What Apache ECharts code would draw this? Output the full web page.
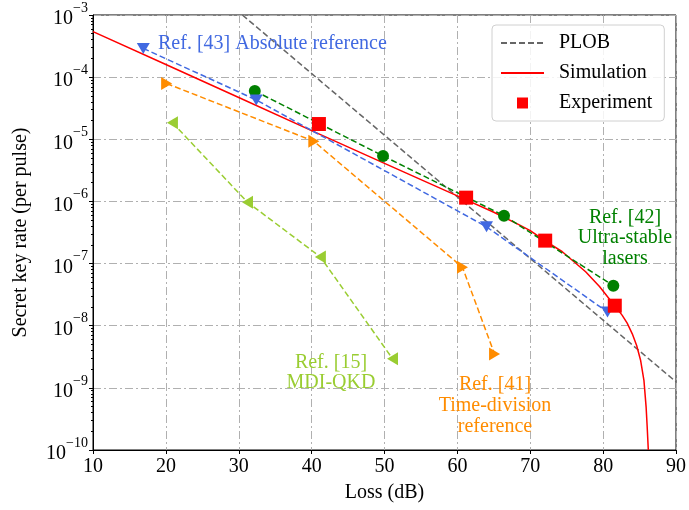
<!DOCTYPE html>
<html>
<head>
<meta charset="utf-8">
<script src="https://cdn.jsdelivr.net/npm/echarts@6/dist/echarts.min.js"></script>
<style>
html,body{margin:0;padding:0;background:#fff;}
#c{width:689px;height:510px;}
</style>
</head>
<body>
<div id="c"></div>
<script>
// ---- data ----
const plobLoss = [30.5, 90];
const plobRate = [1.0e-3, 1.25e-9];

const simLoss = [10, 20, 30, 40, 50, 60, 65, 68.5, 70, 72, 74.4, 75.8, 77.6, 79.5, 80.8, 82.6, 83.3, 84, 84.6, 85.15, 85.6, 85.9, 86.05, 86.2];
const simRate = [5.4e-4, 1.6e-4, 4.7e-5, 1.38e-5, 4.1e-6, 1.23e-6, 6.7e-7, 4.2e-7, 3.4e-7, 2.34e-7, 1.55e-7, 1.12e-7, 7.4e-8, 4.27e-8, 2.75e-8, 1.48e-8, 1.1e-8, 7.4e-9, 4.8e-9, 2.75e-9, 1.32e-9, 4.9e-10, 2.3e-10, 1.0e-10];

const expLoss = [41, 61.2, 72.05, 81.6];
const expRate = [1.76e-5, 1.15e-6, 2.34e-7, 2.1e-8];

const ref42Loss = [32.2, 49.8, 66.4, 81.4];
const ref42Rate = [6.0e-5, 5.4e-6, 5.9e-7, 4.4e-8];

const ref43Loss = [16.9, 32.4, 64.0, 80.6];
const ref43Rate = [2.9e-4, 4.3e-5, 3.9e-7, 1.66e-8];

const ref41Loss = [20.1, 40.3, 60.7, 65.1];
const ref41Rate = [7.9e-5, 9.3e-6, 8.7e-8, 3.5e-9];

const ref15Loss = [20.9, 31.2, 41.2, 51.1];
const ref15Rate = [1.85e-5, 9.7e-7, 1.28e-7, 2.95e-9];

const xTicks = [10, 20, 30, 40, 50, 60, 70, 80, 90];
const yTickExponents = [-10, -9, -8, -7, -6, -5, -4, -3];
const minorMantissas = [2, 3, 4, 5, 6, 7, 8, 9];

// ---- chart ----
const F = '"Liberation Serif", "Times New Roman", serif';
const zip = (a, b) => a.map((v, i) => [v, b[i]]);
const minorValues = [];
yTickExponents.slice(0, -1).forEach(e => minorMantissas.forEach(m => minorValues.push(m * Math.pow(10, e))));
const yMin = Math.pow(10, yTickExponents[0]);
const yMax = Math.pow(10, yTickExponents[yTickExponents.length - 1]);

const chart = echarts.init(document.getElementById('c'), null, {renderer: 'canvas'});
const dashLine = (color) => ({color: color, width: 1.5, type: [6, 3]});
const gridLine = {show: true, lineStyle: {color: '#b0b0b0', width: 1, type: [8, 3, 2, 3]}};

chart.setOption({
  animation: false,
  backgroundColor: '#fff',
  grid: {left: 93, right: 12, top: 15, bottom: 60, show: true, borderColor: '#000', borderWidth: 1, backgroundColor: 'transparent'},
  xAxis: {
    type: 'value', min: xTicks[0], max: xTicks[xTicks.length - 1], interval: 10,
    name: 'Loss (dB)', nameLocation: 'middle', nameGap: 33,
    nameTextStyle: {fontFamily: F, fontSize: 20, color: '#000'},
    axisLine: {show: true, lineStyle: {color: '#000', width: 1}},
    axisTick: {show: true, length: 4, lineStyle: {color: '#000'}},
    axisLabel: {fontFamily: F, fontSize: 20, color: '#000', margin: 7},
    splitLine: gridLine
  },
  yAxis: [{
    type: 'log', logBase: 10, min: yMin, max: yMax,
    name: 'Secret key rate (per pulse)', nameLocation: 'middle', nameGap: 62,
    nameTextStyle: {fontFamily: F, fontSize: 20, color: '#000'},
    axisLine: {show: true, lineStyle: {color: '#000', width: 1}},
    axisTick: {show: true, length: 4, lineStyle: {color: '#000'}},
    axisLabel: {
      margin: 5,
      formatter: function (v) {
        const e = Math.round(Math.log10(v));
        return '{b|10}{s|' + (e < 0 ? '\u2212' : '') + Math.abs(e) + '}';
      },
      rich: {
        b: {fontFamily: F, fontSize: 20, color: '#000', lineHeight: 28, verticalAlign: 'bottom'},
        s: {fontFamily: F, fontSize: 14, color: '#000', lineHeight: 28, verticalAlign: 'top'}
      }
    },
    splitLine: gridLine
  }, {
    type: 'log', logBase: 10, min: yMin, max: yMax, position: 'left',
    axisLine: {show: false},
    axisTick: {show: true, length: 2, customValues: minorValues, lineStyle: {color: '#000'}},
    axisLabel: {show: false},
    splitLine: {show: false}
  }],
  legend: {
    data: [
      {name: 'PLOB', itemStyle: {opacity: 0}},
      {name: 'Simulation', itemStyle: {opacity: 0}},
      {name: 'Experiment', icon: 'path://M0,0L1,0L1,1L0,1Z'}
    ],
    orient: 'vertical', left: 492, top: 25,
    itemWidth: 43, itemHeight: 11, itemGap: 10,
    padding: [8, 12, 8, 8],
    backgroundColor: 'rgba(255,255,255,0.85)',
    borderColor: '#d0d0d0', borderWidth: 1, borderRadius: 4,
    textStyle: {fontFamily: F, fontSize: 20, color: '#000', padding: [0, 0, 0, 10]}
  },
  series: [
    {name: 'PLOB', type: 'line', data: zip(plobLoss, plobRate), showSymbol: false, symbol: 'none',
     lineStyle: {color: '#666666', width: 1.5, type: [6, 3]}, itemStyle: {color: '#666666'}, z: 2},
    {name: 'Simulation', type: 'line', data: zip(simLoss, simRate), showSymbol: false, symbol: 'none',
     lineStyle: {color: '#ff0000', width: 1.5}, itemStyle: {color: '#ff0000'}, z: 3},
    {name: 'Ref42', type: 'line', data: zip(ref42Loss, ref42Rate), symbol: 'circle', symbolSize: 12,
     lineStyle: dashLine('#008000'), itemStyle: {color: '#008000'}, z: 4},
    {name: 'Ref43', type: 'line', data: zip(ref43Loss, ref43Rate), symbol: 'triangle', symbolSize: [13, 11], symbolRotate: 180,
     lineStyle: dashLine('#4169e1'), itemStyle: {color: '#4169e1'}, z: 4},
    {name: 'Ref41', type: 'line', data: zip(ref41Loss, ref41Rate), symbol: 'triangle', symbolSize: [13, 11], symbolRotate: -90,
     lineStyle: dashLine('#ff8c00'), itemStyle: {color: '#ff8c00'}, z: 4},
    {name: 'Ref15', type: 'line', data: zip(ref15Loss, ref15Rate), symbol: 'triangle', symbolSize: [13, 11], symbolRotate: 90,
     lineStyle: dashLine('#9acd32'), itemStyle: {color: '#9acd32'}, z: 4},
    {name: 'Experiment', type: 'scatter', data: zip(expLoss, expRate), symbol: 'rect', symbolSize: 14,
     itemStyle: {color: '#ff0000', opacity: 1}, z: 6}
  ],
  graphic: [
    {type: 'text', x: 158, y: 34, z: 10, style: {text: 'Ref. [43] Absolute reference', fill: '#4169e1', font: '20px ' + F, verticalAlign: 'top'}},
    {type: 'text', x: 625, y: 207, z: 10, style: {text: 'Ref. [42]\nUltra-stable\nlasers', fill: '#008000', font: '20px ' + F, align: 'center', verticalAlign: 'top', lineHeight: 20.5}},
    {type: 'text', x: 331, y: 352, z: 10, style: {text: 'Ref. [15]\nMDI-QKD', fill: '#9acd32', font: '20px ' + F, align: 'center', verticalAlign: 'top', lineHeight: 20.5}},
    {type: 'text', x: 495, y: 374, z: 10, style: {text: 'Ref. [41]\nTime-division\nreference', fill: '#ff8c00', font: '20px ' + F, align: 'center', verticalAlign: 'top', lineHeight: 21}}
  ]
});
</script>
</body>
</html>
